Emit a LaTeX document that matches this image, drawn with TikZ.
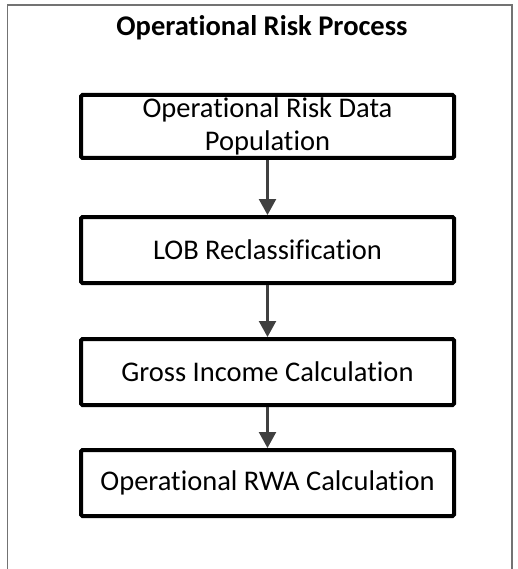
\documentclass[tikz,border=0pt]{standalone}
\usepackage{fontspec}
\setmainfont{Carlito}[Ligatures=NoCommon]
\usetikzlibrary{arrows.meta}

\begin{document}
\begin{tikzpicture}[x=1pt,y=1pt,
box/.style={draw,line width=4pt,rounded corners=1.5pt,align=center,minimum width=373pt,minimum height=66pt,inner sep=1pt,font=\fontsize{28.5}{33}\selectfont},
arrow/.style={-{Triangle[length=16pt,width=17pt]},line width=2.3pt,draw=black!75}
]
\useasboundingbox (0,0) rectangle (517,-569);
\draw[black!55,line width=1.3pt] (7.5,-580) |- (512,-5) -- (512,-580);
\node[font=\bfseries\fontsize{28.5}{32}\selectfont] (title) at (262,-28) {Operational Risk Process};
\node[box,minimum height=63pt] (popul) at (267.5,-126.5) {Operational Risk Data\\Population};
\node[box] (lob) at (267.5,-250) {LOB Reclassification};
\node[box] (gross) at (267.5,-372) {Gross Income Calculation};
\node[box] (rwa) at (267.5,-483) {Operational RWA Calculation};
\draw[arrow] (popul)--(lob);
\draw[arrow] (lob)--(gross);
\draw[arrow] (gross)--(rwa);
\end{tikzpicture}
\end{document}
